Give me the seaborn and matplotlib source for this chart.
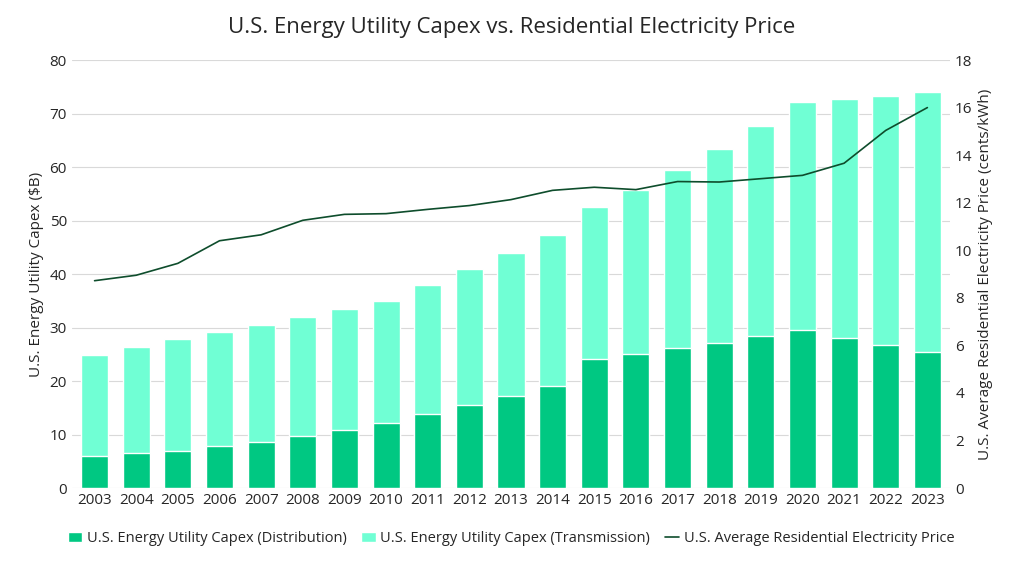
import matplotlib
matplotlib.use("Agg")
import matplotlib.pyplot as plt
import seaborn as sns
import pandas as pd

years = [str(y) for y in range(2003, 2024)]
distribution = [6.0, 6.5, 7.0, 7.8, 8.7, 9.7, 10.8, 12.1, 13.9, 15.6, 17.3, 19.0,
                24.2, 25.1, 26.2, 27.2, 28.4, 29.5, 28.1, 26.8, 25.5]
total = [24.9, 26.4, 27.9, 29.1, 30.4, 31.9, 33.4, 35.0, 38.0, 40.9, 44.0, 47.3,
         52.5, 55.8, 59.4, 63.4, 67.6, 72.1, 72.7, 73.2, 74.1]
transmission = [t - d for t, d in zip(total, distribution)]
price = [8.72, 8.95, 9.45, 10.4, 10.65, 11.26, 11.51, 11.54, 11.72, 11.88, 12.13,
         12.52, 12.65, 12.55, 12.89, 12.87, 13.01, 13.15, 13.66, 15.04, 16.0]

sns.set_style("white")
plt.rcParams["font.family"] = ["Open Sans", "DejaVu Sans"]

df = pd.DataFrame({"year": years, "dist": distribution, "total": total, "price": price})

fig, ax = plt.subplots(figsize=(10.24, 5.61), dpi=100)
fig.subplots_adjust(left=0.07, right=0.928, top=0.893, bottom=0.13)

sns.barplot(data=df, x="year", y="total", color="#70FFD4", width=0.65, ax=ax,
            saturation=1, label="U.S. Energy Utility Capex (Transmission)")
sns.barplot(data=df, x="year", y="dist", color="#00C882", width=0.65, ax=ax,
            saturation=1, label="U.S. Energy Utility Capex (Distribution)")
ax.set_ylim(0, 80)
ax.set_yticks(range(0, 81, 10))
ax.set_xlabel("")
ax.set_ylabel("U.S. Energy Utility Capex ($B)", fontsize=11)
ax.yaxis.grid(True, color="#d9d9d9", lw=0.8)
ax.set_axisbelow(True)
for s in ax.spines.values():
    s.set_visible(False)
ax.tick_params(labelsize=11, length=0)

ax2 = ax.twinx()
sns.lineplot(x=list(range(len(years))), y=price, color="#0E4D2C", lw=1.2, ax=ax2,
             label="U.S. Average Residential Electricity Price", legend=False)
ax2.set_ylim(0, 18)
ax2.set_yticks(range(0, 19, 2))
ax2.set_ylabel("U.S. Average Residential Electricity Price (cents/kWh)", fontsize=11)
for s in ax2.spines.values():
    s.set_visible(False)
ax2.tick_params(labelsize=11, length=0)
ax.set_xlim(-0.55, len(years) - 0.45)

h1, l1 = ax.get_legend_handles_labels()
h2, l2 = ax2.get_legend_handles_labels()
ax.legend([h1[1], h1[0], h2[0]], [l1[1], l1[0], l2[0]], loc="upper center",
          bbox_to_anchor=(0.5, -0.07), ncol=3, frameon=False, fontsize=10.5,
          handlelength=1.0, columnspacing=1.0, handletextpad=0.3)

fig.suptitle("U.S. Energy Utility Capex vs. Residential Electricity Price", fontsize=16, y=0.97)
fig.savefig("out.png")
